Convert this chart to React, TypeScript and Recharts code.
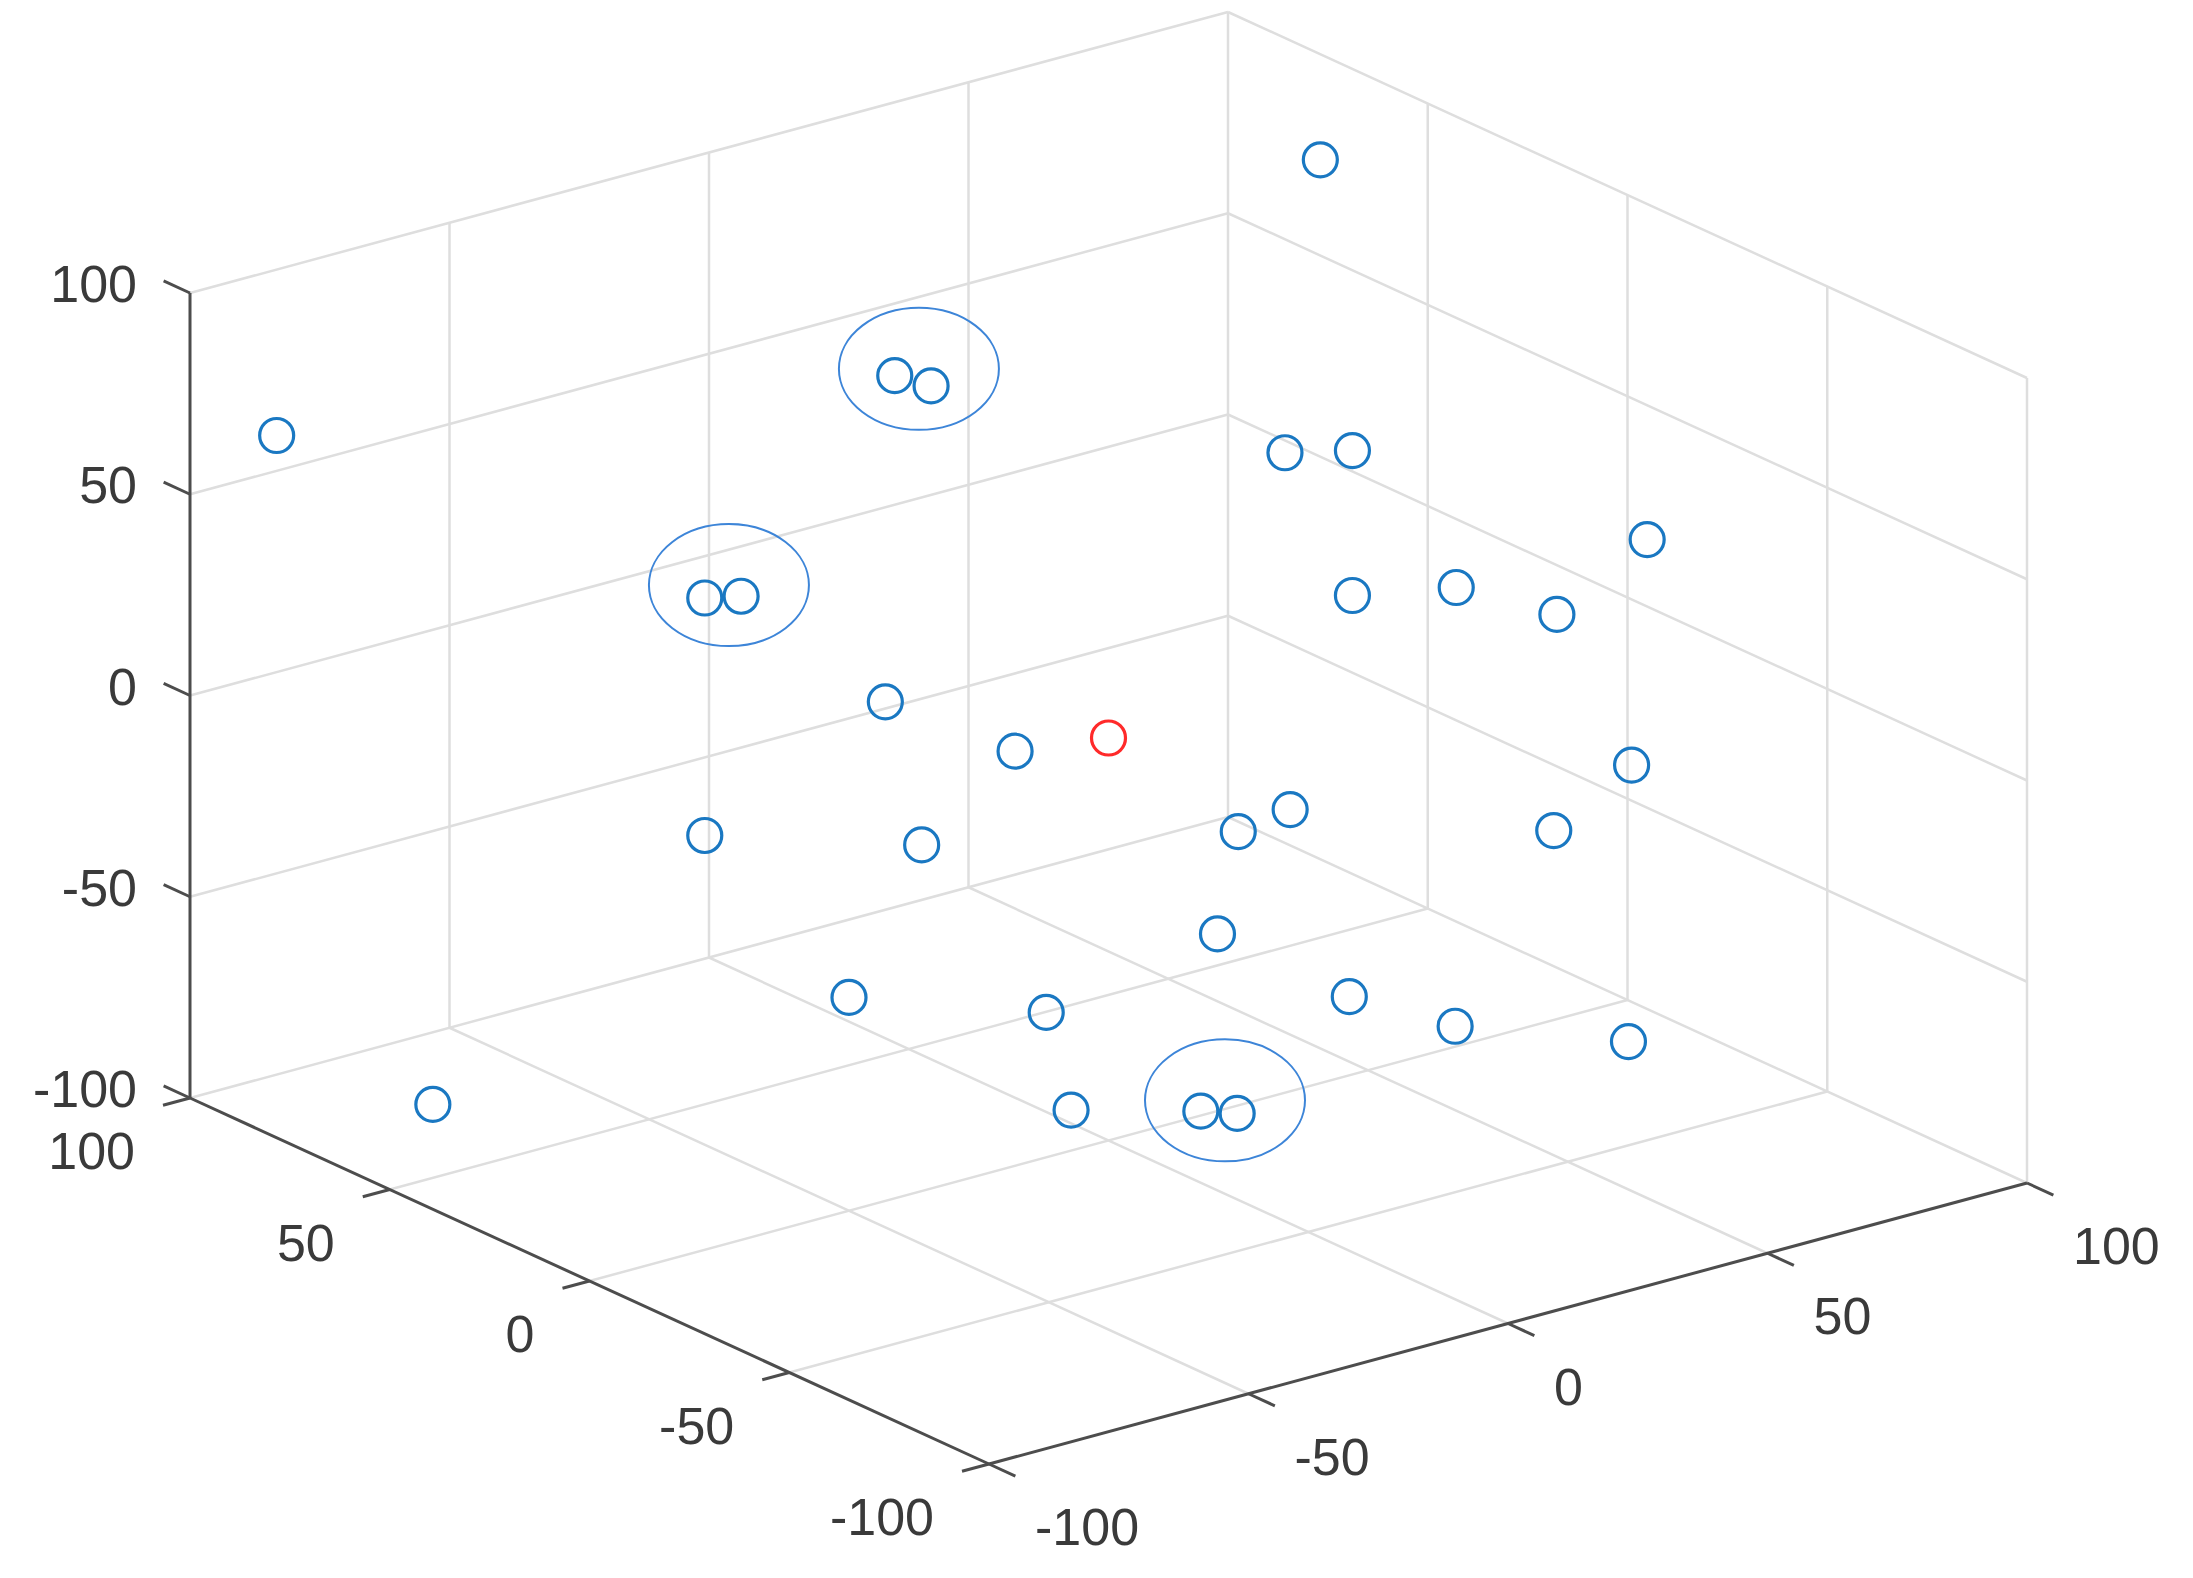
import { ScatterChart, Scatter, XAxis, YAxis, ReferenceLine } from 'recharts'

const W = 2193
const H = 1578

// 3D points (x, y, z) (az -37.5, el 30)
const pointsX = [-91, 5, 12, -47, -40, 87, 34, 47, 73, 47, 67, 71, -43, -18, 70, -47, -36, 25, 35, 55, 21, -50, -12, 31, 36, 54, -84, -38, -13, -6]
const pointsY = [90, 60, 60, 40, 40, 60, 0, 0, -40, 0, 0, -20, 0, 0, -40, 40, 0, 0, 0, -40, 0, 0, 0, -20, -40, -60, 60, -40, -40, -40]
const pointsZ = [66, 61, 56, 33, 31, 86, 59, 55, 42, 19, 14, 15, 24, 3, -13, -26, -14, -32, -30, -24, -56, -47, -64, -66, -66, -67, -89, -61, -70, -73]

// the red point
const originPoint = [0, 0, 0]

// pairs of points circled in the figure (indices into the point arrays)
const circledPairs = [[1, 2], [3, 4], [28, 29]]

const ticks = [-100, -50, 0, 50, 100]
const tickLabels = ['-100', '-50', '0', '50', '100']

// projection of the axes box onto the page
const O = [989, 1464]
const EX = [1038, -281]
const EY = [-799, -366]
const EZ = [0, -805]

function proj(x: number, y: number, z: number) {
  const a = (x + 100) / 200
  const b = (y + 100) / 200
  const c = (z + 100) / 200
  return {
    px: O[0] + a * EX[0] + b * EY[0] + c * EZ[0],
    py: O[1] + a * EX[1] + b * EY[1] + c * EZ[1],
  }
}

type P3 = [number, number, number]
interface Seg {
  a: P3
  b: P3
  dark?: boolean
}

const inner = ticks.slice(1, 4)
const segs: Seg[] = []
// floor
for (const v of [...inner, 100]) {
  segs.push({ a: [v, -100, -100], b: [v, 100, -100] })
  segs.push({ a: [-100, v, -100], b: [100, v, -100] })
}
// back-left wall (y = 100)
for (const v of [...inner, 100]) {
  segs.push({ a: [v, 100, -100], b: [v, 100, 100] })
  segs.push({ a: [-100, 100, v], b: [100, 100, v] })
}
// back-right wall (x = 100)
for (const v of [-100, ...inner]) segs.push({ a: [100, v, -100], b: [100, v, 100] })
for (const v of [...inner, 100]) segs.push({ a: [100, -100, v], b: [100, 100, v] })
// axes
segs.push({ a: [-100, -100, -100], b: [100, -100, -100], dark: true })
segs.push({ a: [-100, -100, -100], b: [-100, 100, -100], dark: true })
segs.push({ a: [-100, 100, -100], b: [-100, 100, 100], dark: true })
for (const v of ticks) {
  segs.push({ a: [v, -100, -100], b: [v, -106.6, -100], dark: true })
  segs.push({ a: [-100, v, -100], b: [-105.2, v, -100], dark: true })
  segs.push({ a: [-100, 100, v], b: [-100, 106.6, v], dark: true })
}

const points = pointsX.map((x, i) => proj(x, pointsY[i], pointsZ[i]))
const redPoint = [proj(originPoint[0], originPoint[1], originPoint[2])]
const ellipses = circledPairs.map(([i, j]) => ({
  px: (points[i].px + points[j].px) / 2 + 6,
  py: (points[i].py + points[j].py) / 2 - 12,
}))

const labels = [
  ...ticks.map((v, i) => {
    const p = proj(v, -100, -100)
    return { px: p.px + 46, py: p.py + 63, text: tickLabels[i], anchor: 'start' }
  }),
  ...ticks.map((v, i) => {
    const p = proj(-100, v, -100)
    return { px: p.px - 55, py: p.py + 53, text: tickLabels[i], anchor: 'end' }
  }),
  ...ticks.map((v, i) => {
    const p = proj(-100, 100, v)
    return { px: p.px - 53, py: p.py - 9, text: tickLabels[i], anchor: 'end' }
  }),
]

const ring = (color: string) => (props: any) => (
  <circle cx={props.cx} cy={props.cy} r={17} fill="none" stroke={color} strokeWidth={3.2} />
)

const ellipseShape = (props: any) => (
  <ellipse cx={props.cx} cy={props.cy} rx={80} ry={61} fill="none" stroke="#3d85d8" strokeWidth={2} />
)

const labelShape = (props: any) => (
  <text
    x={props.cx}
    y={props.cy}
    textAnchor={props.payload.anchor}
    dominantBaseline="central"
    fontSize={52}
    fontFamily="'Liberation Sans', Arial, Helvetica, sans-serif"
    fill="#3a3a3a"
  >
    {props.payload.text}
  </text>
)

export default function App() {
  return (
    <div style={{ position: 'absolute', left: 0, top: 0, width: W, height: H, background: '#fff' }}>
      <ScatterChart width={W} height={H} margin={{ top: 0, right: 0, bottom: 0, left: 0 }}>
        <XAxis type="number" dataKey="px" domain={[0, W]} hide />
        <YAxis type="number" dataKey="py" domain={[0, H]} reversed hide />
        {segs.map((s, i) => {
          const a = proj(...s.a)
          const b = proj(...s.b)
          return (
            <ReferenceLine
              key={i}
              segment={[{ x: a.px, y: a.py }, { x: b.px, y: b.py }]}
              stroke={s.dark ? '#4d4d4d' : '#dedede'}
              strokeWidth={s.dark ? 3 : 2.5}
              ifOverflow="visible"
            />
          )
        })}
        <Scatter data={points} shape={ring('#1a78c2')} isAnimationActive={false} />
        <Scatter data={redPoint} shape={ring('#ff2a2a')} isAnimationActive={false} />
        <Scatter data={ellipses} shape={ellipseShape} isAnimationActive={false} />
        <Scatter data={labels} shape={labelShape} isAnimationActive={false} />
      </ScatterChart>
    </div>
  )
}
